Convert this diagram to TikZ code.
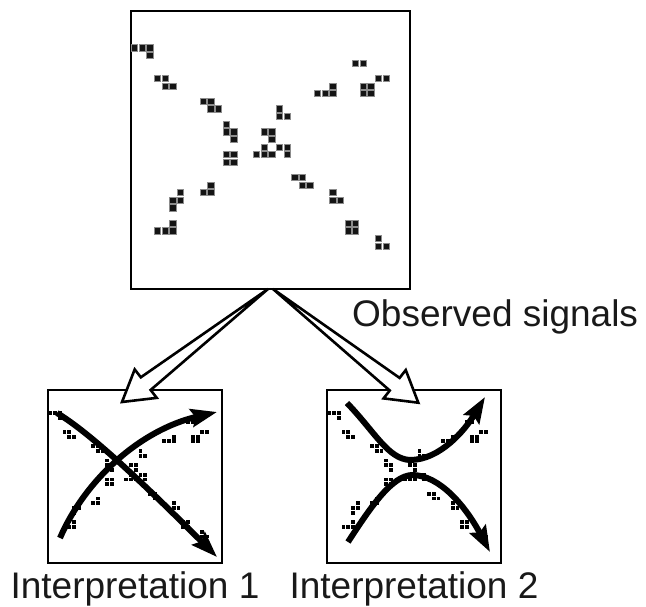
\documentclass[tikz,border=0pt]{standalone}
\usepackage{fontspec}
\setmainfont{Liberation Sans}
\usetikzlibrary{arrows.meta,calc}

% The observed signal cells, in cell units (column/row) inside a 36.6 x 36.5 frame
\newcommand\signaldots{%
  \foreach \c/\r in {0/4,1/4,2/4,2/5, 3/8,4/8,4/9,5/9, 9/11,10/11,10/12,11/12,
      12/14,12/15,13/15,13/16, 12/18,13/18,12/19,13/19,
      17/15,18/15,18/16,17/17,16/18,17/18,18/18,19/17,20/17,20/18,
      19/12,19/13,20/13, 24/10,25/10,26/10,26/9, 29/6,30/6,
      30/9,31/9,30/10,31/10,32/8,33/8, 21/21,22/21,22/22,23/22,
      26/23,26/24,27/24, 28/27,29/27,28/28,29/28, 32/29,32/30,33/30,
      9/23,10/23,10/22, 6/23,5/24,6/24,5/25, 3/28,4/28,5/28,5/27}
    {\path[dotcell] (\c+0.05,\r+0.41) rectangle ++(0.82,0.82);}%
}

% Wide hollow arrow: a thin wedge shaft from #1 ending in an open head at #2
\newcommand\hollowarrow[2]{%
  \coordinate (#2-base) at ($(#2)!30pt!(#1)$);
  \draw[hollow] (#1) -- ($(#2-base)!8pt!90:(#2)$) -- ($(#2-base)!18pt!90:(#2)$)
    -- (#2) -- ($(#2-base)!18pt!-90:(#2)$) -- ($(#2-base)!8pt!-90:(#2)$) -- cycle;%
}

\begin{document}
\begin{tikzpicture}[x=1pt,y=-1pt,
  frame/.style={draw=black, anchor=north west, inner sep=0pt, outer sep=0pt},
  dotcell/.style={fill=black!92, draw=black!45, line width=0.3pt},
  trace/.style={draw=black, line width=6pt,
    -{Stealth[length=26pt,width=18pt,inset=4pt]}},
  hollow/.style={draw=black, fill=white, line width=2.6pt,
    line join=miter, miter limit=4},
  lbl/.style={inner sep=0pt, text=black!90,
    font=\fontsize{37}{40}\selectfont}]
\useasboundingbox (0,0) rectangle (646,607);

% frames
\node[frame, line width=1.7pt, minimum width=279pt, minimum height=278pt] (obs) at (131,11) {};
\node[frame, line width=1.3pt, minimum width=174pt, minimum height=173pt] (int1) at (48,390) {};
\node[frame, line width=1.3pt, minimum width=174pt, minimum height=173pt] (int2) at (327,390) {};

% signal cells in each frame
\begin{scope}[shift={(obs.north west)}, scale=7.62]
  \signaldots
\end{scope}
\begin{scope}[shift={(int1.north west)}, scale=4.754, dotcell/.append style={draw=none, fill=black}]
  \signaldots
\end{scope}
\begin{scope}[shift={(int2.north west)}, scale=4.754, dotcell/.append style={draw=none, fill=black}]
  \signaldots
\end{scope}

% interpretation 1: two crossing tracks
\draw[trace] (57,413) .. controls (90,433) and (140,480) .. (217,557);
\draw[trace] (60,538) .. controls (85,480) and (140,430) .. (217,412);

% interpretation 2: two repelling tracks
\draw[trace] (347,403) .. controls (375,432) and (388,459) .. (410,460)
  .. controls (440,460) and (465,430) .. (485,397);
\draw[trace] (348,542) .. controls (372,505) and (392,476) .. (412,475)
  .. controls (440,475) and (466,507) .. (490,552);

% hollow arrows from the observed frame to both interpretations
\coordinate (apexL) at ($(obs.south)+(-2.5,0)$);
\coordinate (apexR) at ($(obs.south)+(2.5,0)$);
\coordinate (tipL) at ($(int1.north west)+(74,12)$);
\coordinate (tipR) at ($(int2.north west)+(91.3,12.7)$);
\hollowarrow{apexL}{tipL}
\hollowarrow{apexR}{tipR}

% labels
\node[lbl, anchor=base west] (obslbl) at (352,326.7) {Observed signals};
\node[lbl, anchor=base] (lbl1) at ($(int1.south)+(0,35.5)$) {Interpretation 1};
\node[lbl, anchor=base] (lbl2) at ($(int2.south)+(0,35.5)$) {Interpretation 2};
\end{tikzpicture}
\end{document}
